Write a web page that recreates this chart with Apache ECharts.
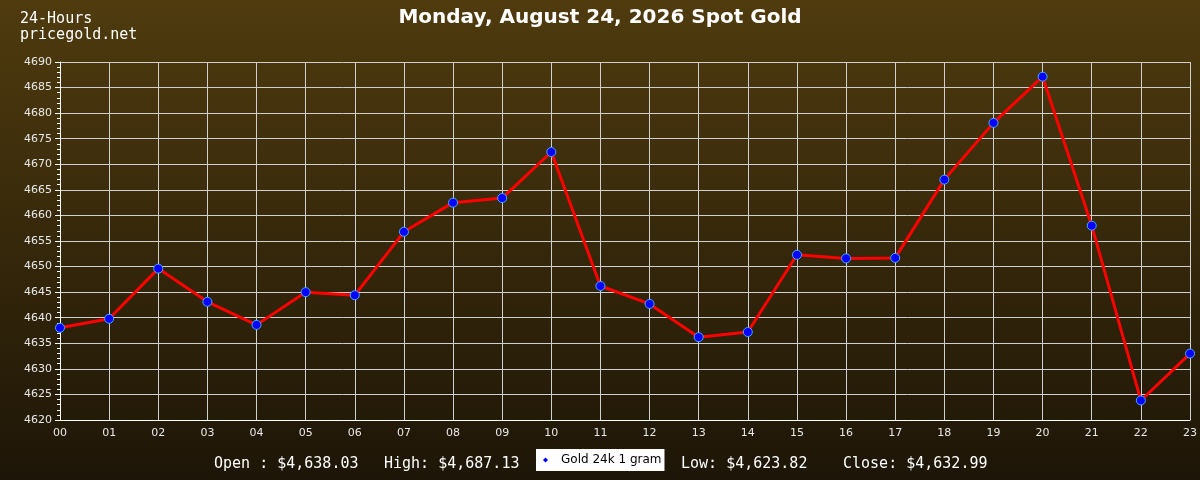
<!DOCTYPE html>
<html>
<head>
<meta charset="utf-8">
<script src="https://cdn.jsdelivr.net/npm/echarts@6/dist/echarts.min.js"></script>
<style>html,body{margin:0;padding:0;background:#000;}#c{width:1200px;height:480px;}</style>
</head>
<body>
<div id="c"></div>
<script>
const hours = ['00','01','02','03','04','05','06','07','08','09','10','11','12','13','14','15','16','17','18','19','20','21','22','23'];
const prices = [4638.03,4639.8,4649.6,4643.1,4638.6,4645.0,4644.4,4656.8,4662.5,4663.4,4672.4,4646.2,4642.7,4636.2,4637.2,4652.3,4651.6,4651.7,4667.0,4678.1,4687.13,4658.0,4623.82,4632.99];
const titleText = 'Monday, August 24, 2026 Spot Gold';
const cornerText = '24-Hours\npricegold.net';
const seriesName = 'Gold 24k 1 gram';
const openText = 'Open : $4,638.03';
const highText = 'High: $4,687.13';
const lowText = 'Low: $4,623.82';
const closeText = 'Close: $4,632.99';
const yMin = 4620, yMax = 4690, yStep = 5;

const chart = echarts.init(document.getElementById('c'));
function t(x, y, s) {
  return {type:'text', left:x, top:y, style:{text:s, fill:'#ffffff', font:'15px "DejaVu Sans Mono"'}};
}
chart.setOption({
  animation:false,
  backgroundColor:{type:'linear',x:0,y:0,x2:0,y2:1,colorStops:[{offset:0,color:'#4f3b0e'},{offset:1,color:'#1d1507'}]},
  title:{text:titleText,left:'center',top:3,textStyle:{color:'#ffffff',fontFamily:'DejaVu Sans',fontWeight:'bold',fontSize:20}},
  grid:{left:60,right:10,top:62,bottom:60,containLabel:false},
  legend:{
    data:[{name:seriesName,icon:'diamond',itemStyle:{color:'#0000ff',borderWidth:0}}],
    left:536, top:449, backgroundColor:'#ffffff', borderRadius:0,
    padding:[5,3,5,7], itemWidth:5, itemHeight:5, itemGap:0,
    textStyle:{color:'#000000',fontFamily:'DejaVu Sans',fontSize:12,padding:[0,0,0,8]}
  },
  graphic:[
    {type:'text', left:20, top:11, style:{text:cornerText, fill:'#ffffff', font:'15px "DejaVu Sans Mono"', lineHeight:16}},
    t(214,457,openText), t(384,457,highText), t(681,457,lowText), t(843,457,closeText)
  ],
  xAxis:{
    type:'category', data:hours, boundaryGap:false,
    axisLine:{show:true,lineStyle:{color:'#ffffff',width:1}},
    axisTick:{show:false},
    axisLabel:{color:'#e8e8e8',fontFamily:'DejaVu Sans',fontSize:11,margin:8,interval:0},
    splitLine:{show:true,lineStyle:{color:'#cfcfcf',width:1}}
  },
  yAxis:{
    type:'value', min:yMin, max:yMax, interval:yStep,
    axisLine:{show:true,lineStyle:{color:'#ffffff',width:1}},
    axisTick:{show:true,length:5,lineStyle:{color:'#ffffff'}},
    minorTick:{show:true,splitNumber:5,length:3,lineStyle:{color:'#ffffff'}},
    axisLabel:{color:'#e8e8e8',fontFamily:'DejaVu Sans',fontSize:11,margin:8,formatter:function(v){return String(v);}},
    splitLine:{show:true,lineStyle:{color:'#cfcfcf',width:1}}
  },
  series:[{
    name:seriesName, type:'line', data:prices,
    lineStyle:{color:'#ff0000',width:3},
    symbol:'circle', symbolSize:9,
    itemStyle:{color:'#0000ff',borderColor:'#44aaff',borderWidth:1},
    z:3
  }]
});
</script>
</body>
</html>
